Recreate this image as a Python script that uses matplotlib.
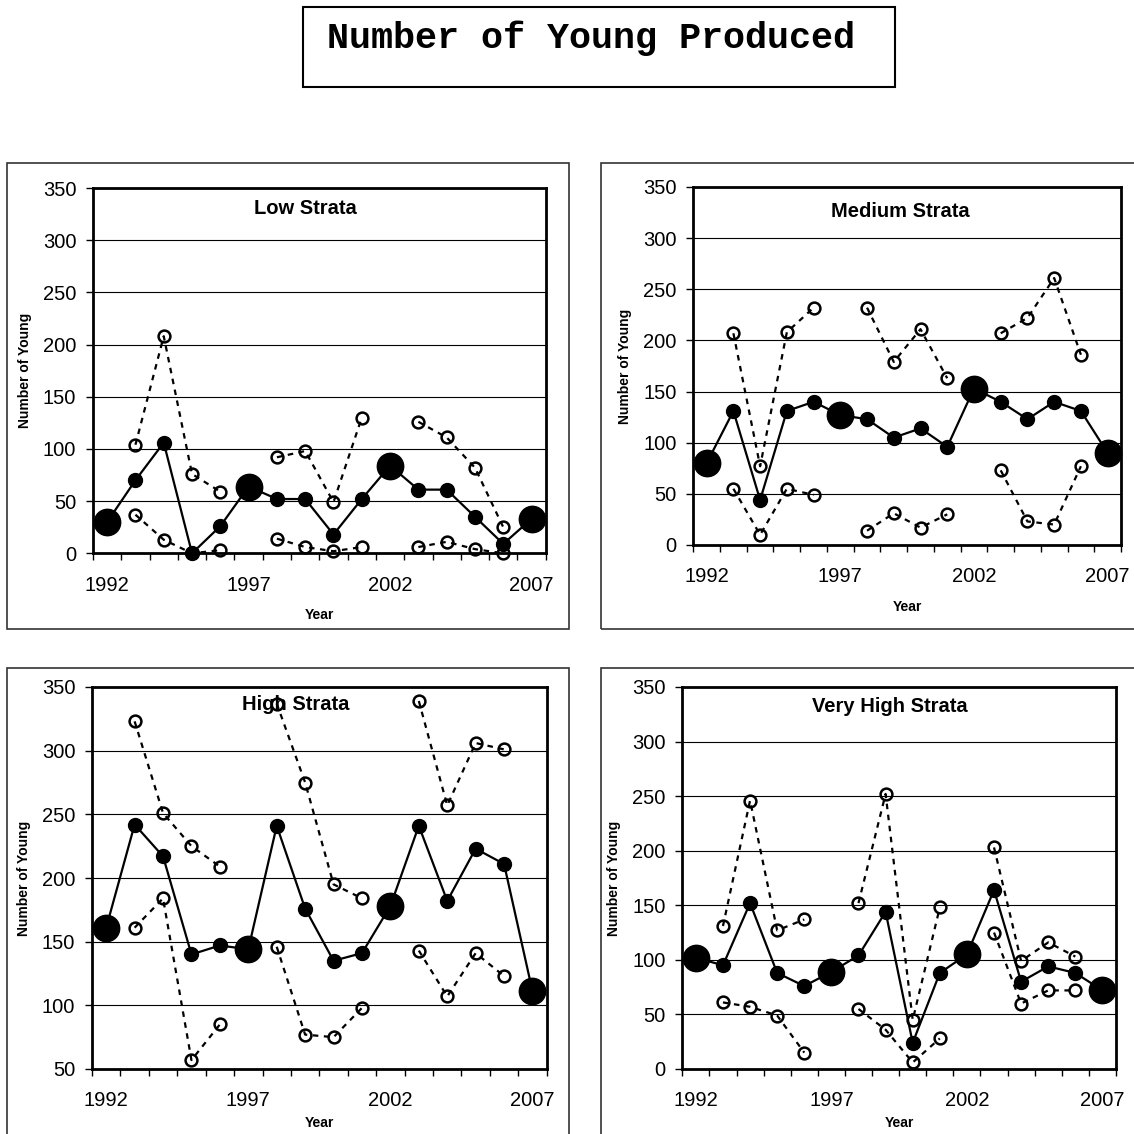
import numpy as np
import matplotlib
matplotlib.use("Agg")
import matplotlib.pyplot as plt
from matplotlib.patches import Rectangle

nan = np.nan

# data
years = list(range(1992, 2008))
big_years = [1992, 1997, 2002, 2007]
label_years = [1992, 1997, 2002, 2007]

low_mean = [30, 70, 106, 0, 26, 64, 52, 52, 18, 52, 84, 61, 61, 35, 9, 33]
low_upper = [nan, 104, 208, 76, 59, nan, 92, 98, 49, 130, nan, 126, 111, 82, 25, nan]
low_lower = [nan, 37, 13, 0, 3, nan, 14, 6, 2, 6, nan, 6, 11, 4, 0, nan]

med_mean = [80, 131, 44, 131, 140, 127, 123, 105, 114, 96, 153, 140, 123, 140, 131, 90]
med_upper = [nan, 207, 77, 208, 232, nan, 232, 179, 211, 163, nan, 207, 222, 261, 186, nan]
med_lower = [nan, 55, 10, 55, 49, nan, 14, 31, 17, 30, nan, 73, 23, 20, 77, nan]

high_mean = [161, 242, 217, 140, 147, 144, 241, 176, 135, 141, 178, 241, 182, 223, 211, 111]
high_upper = [nan, 323, 251, 225, 209, nan, 337, 275, 195, 184, nan, 339, 257, 306, 301, nan]
high_lower = [nan, 161, 184, 57, 85, nan, 146, 77, 75, 98, nan, 143, 107, 141, 123, nan]

vhigh_mean = [102, 95, 152, 88, 76, 89, 104, 144, 24, 88, 105, 164, 80, 94, 88, 72]
vhigh_upper = [nan, 131, 246, 127, 137, nan, 152, 252, 45, 148, nan, 203, 99, 116, 103, nan]
vhigh_lower = [nan, 61, 57, 49, 15, nan, 55, 36, 6, 28, nan, 125, 60, 72, 72, nan]

titles = ["Low Strata", "Medium Strata", "High Strata", "Very High Strata"]
y_bottoms = [0, 0, 50, 0]

plt.rcParams["font.family"] = ["Liberation Sans", "DejaVu Sans"]

W = H = 1134
fig = plt.figure(figsize=(W / 100, H / 100), dpi=100)


def fx(x):
    return x / W


def fy(y):
    return 1 - y / H


# layout in pixels: plot box, outer frame, title pos, ylabel x, "Year" y
layout = [
    dict(plot=(93, 188, 545.7, 553.3), frame=(7, 162.7, 568.7, 629.3),
         title=(305, 207), ylab_x=25, year_y=615),
    dict(plot=(693.3, 187, 1121, 545), frame=(600.7, 162.7, 1160, 629.3),
         title=(900, 210), ylab_x=625, year_y=607),
    dict(plot=(92, 687, 546.7, 1069), frame=(7, 668, 568.7, 1160),
         title=(296, 703), ylab_x=24, year_y=1123),
    dict(plot=(682.3, 687, 1116, 1069), frame=(600.7, 668, 1160, 1160),
         title=(890, 705), ylab_x=614, year_y=1123),
]

series = [
    (low_mean, low_upper, low_lower),
    (med_mean, med_upper, med_lower),
    (high_mean, high_upper, high_lower),
    (vhigh_mean, vhigh_upper, vhigh_lower),
]

# main title box
fig.add_artist(Rectangle((fx(302.7), fy(87)), fx(895 - 302.7), (87 - 6.7) / H,
                         transform=fig.transFigure, fill=False, lw=1.5, ec="black"))
fig.text(fx(591), fy(47.7), "Number of Young Produced", family="Liberation Mono",
         weight="bold", fontsize=26.5, ha="center", va="baseline")

for i in range(4):
    lay = layout[i]
    mean, upper, lower = series[i]
    x0, y0, x1, y1 = lay["plot"]

    # chart area frame
    a, b, c, d = lay["frame"]
    fig.add_artist(Rectangle((fx(a), fy(d)), fx(c - a), (d - b) / H,
                             transform=fig.transFigure, fill=False, lw=1.2, ec="#333333"))

    ax = fig.add_axes([fx(x0), fy(y1), fx(x1 - x0), (y1 - y0) / H])
    ax.set_xlim(1991.5, 2007.5)
    ax.set_ylim(y_bottoms[i], 350)
    ax.set_yticks(np.arange(y_bottoms[i], 351, 50))
    ax.yaxis.grid(True, color="black", lw=0.8)
    ax.set_axisbelow(True)
    for s in ax.spines.values():
        s.set_linewidth(2)
        s.set_color("black")

    ax.set_xticks(np.arange(1991.5, 2008, 1))
    ax.set_xticks(label_years, minor=True)
    ax.set_xticklabels([str(y) for y in label_years], minor=True)
    ax.tick_params(axis="x", which="major", direction="out", length=5, width=1,
                   labelbottom=False)
    ax.tick_params(axis="x", which="minor", length=0, pad=16, labelsize=14.5)
    ax.tick_params(axis="y", direction="out", length=5, width=1, pad=7, labelsize=14.5)

    # confidence bounds
    for vals in (upper, lower):
        ax.plot(years, vals, color="black", lw=1.6, ls=(0, (2.5, 2.5)),
                marker="o", ms=8.5, mfc="none", mec="black", mew=1.8,
                clip_on=False, zorder=3)

    # mean line and points
    ax.plot(years, mean, color="black", lw=1.6, clip_on=False, zorder=4)
    small_x = [y for y in years if y not in big_years]
    small_y = [m for y, m in zip(years, mean) if y not in big_years]
    big_y = [m for y, m in zip(years, mean) if y in big_years]
    ax.plot(small_x, small_y, ls="none", marker="o", ms=10, color="black",
            clip_on=False, zorder=5)
    ax.plot(big_years, big_y, ls="none", marker="o", ms=19, color="black",
            clip_on=False, zorder=5)

    tx, ty = lay["title"]
    fig.text(fx(tx), fy(ty), titles[i], fontsize=14.5, weight="bold",
             ha="center", va="center_baseline")
    fig.text(fx(lay["ylab_x"]), fy((y0 + y1) / 2), "Number of Young", fontsize=10,
             weight="bold", rotation=90, ha="center", va="center")
    fig.text(fx((x0 + x1) / 2), fy(lay["year_y"]), "Year", fontsize=10,
             weight="bold", ha="center", va="center")

fig.savefig("out.png", dpi=100, facecolor="white")
